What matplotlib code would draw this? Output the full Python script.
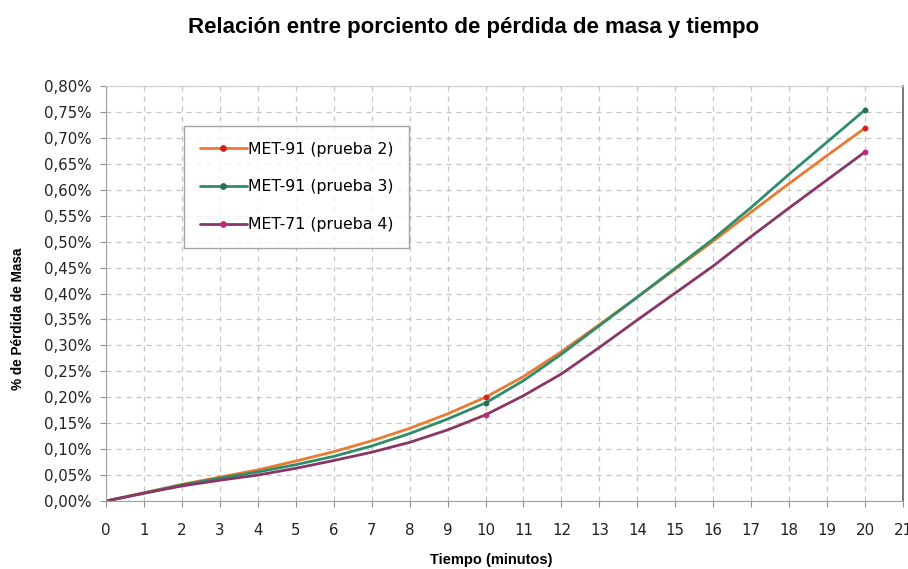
import matplotlib
matplotlib.use("Agg")
from matplotlib import pyplot as plt
from matplotlib.ticker import FuncFormatter, MultipleLocator

plt.rcParams['font.family'] = ['DejaVu Sans']

tiempo = list(range(0, 21))
prueba2 = [0, 0.016, 0.032, 0.046, 0.060, 0.077, 0.095, 0.116, 0.140, 0.168, 0.200,
           0.240, 0.288, 0.340, 0.393, 0.447, 0.501, 0.557, 0.612, 0.666, 0.719]
prueba3 = [0, 0.015, 0.031, 0.044, 0.056, 0.070, 0.086, 0.106, 0.130, 0.158, 0.189,
           0.232, 0.283, 0.338, 0.393, 0.449, 0.505, 0.566, 0.630, 0.692, 0.754]
prueba4 = [0, 0.015, 0.029, 0.040, 0.050, 0.063, 0.078, 0.094, 0.113, 0.137, 0.166,
           0.203, 0.245, 0.296, 0.349, 0.401, 0.453, 0.510, 0.565, 0.619, 0.673]

series = [
    ("MET-91 (prueba 2)", prueba2, "#e97a30", "#d42020"),
    ("MET-91 (prueba 3)", prueba3, "#2f8c6a", "#2a6e55"),
    ("MET-71 (prueba 4)", prueba4, "#8a3568", "#c0287c"),
]

W, H = 908, 569
fig = plt.figure(figsize=(W / 100, H / 100), dpi=100)
ax = fig.add_axes([106 / W, 1 - 501 / H, 797 / W, 415 / H])

for name, vals, col, mcol in series:
    ax.plot(tiempo, vals, color=col, lw=2.0, label=name, solid_capstyle="round",
            marker="o", ms=3.2, mfc=mcol, mec=mcol, markevery=[10, 20])

ax.set_xlim(0, 21)
ax.set_ylim(0, 0.80)
ax.xaxis.set_major_locator(MultipleLocator(1))
ax.yaxis.set_major_locator(MultipleLocator(0.05))
ax.yaxis.set_major_formatter(FuncFormatter(lambda v, p: f"{v:.2f}%".replace(".", ",")))
ax.grid(True, ls=(0, (4, 4)), color="#c4c4c4", lw=0.9)
ax.tick_params(labelsize=10.8, length=4, color="#909090", labelcolor="#222222")
ax.tick_params(axis="y", pad=6)
ax.tick_params(axis="x", pad=12)
for s in ["left", "bottom"]:
    ax.spines[s].set_color("#a0a0a0")
ax.spines["top"].set_color("#cccccc")
ax.spines["right"].set_color("#606060")
ax.spines["right"].set_linewidth(1.2)

fig.text(474 / W, 1 - 27 / H, "Relación entre porciento de pérdida de masa y tiempo",
         family="Liberation Sans", fontsize=16, fontweight="bold",
         ha="center", va="center")
fig.text(491 / W, 1 - 560 / H, "Tiempo (minutos)", family="Liberation Sans",
         fontsize=10.5, fontweight="bold", ha="center", va="center")
fig.text(18 / W, 1 - 319 / H, "% de Pérdida de Masa", family="Liberation Sans",
         fontsize=9.8, fontweight="bold", ha="center", va="center", rotation=90)

leg = ax.legend(loc="upper left", bbox_to_anchor=(70 / 797, 1 - 32 / 415), fontsize=11.3,
                frameon=True, fancybox=False, edgecolor="#909090",
                labelspacing=1.45, handlelength=3.0, borderpad=1.0,
                handletextpad=0.1, markerscale=1.2)
leg.get_frame().set_linewidth(1.0)

fig.savefig("out.png", dpi=100)
